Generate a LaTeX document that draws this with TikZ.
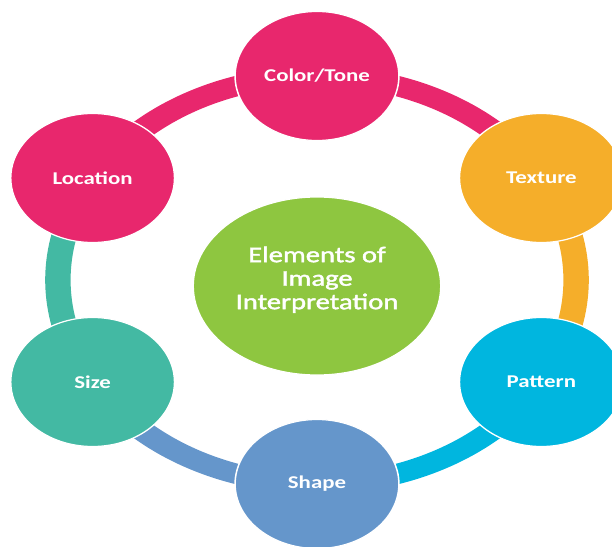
\documentclass[tikz,border=0pt]{standalone}
\usepackage{fontspec}
\setmainfont{Carlito}
\usetikzlibrary{shapes.geometric}
\pgfdeclarelayer{background}
\pgfsetlayers{background,main}
\definecolor{cpink}{HTML}{E8276D}
\definecolor{corange}{HTML}{F5AE2A}
\definecolor{ccyan}{HTML}{00B6DF}
\definecolor{cblue}{HTML}{6596CB}
\definecolor{cteal}{HTML}{43B9A3}
\definecolor{cgreen}{HTML}{8EC640}
\newfontfamily\hubfont[FakeBold=1.6]{Carlito}
\begin{document}
\begin{tikzpicture}[x=1pt,y=1pt,
  elem/.style={circle, minimum size=129pt, inner sep=0pt, draw=white, line width=1.2pt,
    text=white, font=\fontsize{18}{20}\selectfont\bfseries},
  hub/.style={ellipse, minimum width=195pt, minimum height=178pt, inner sep=0pt,
    draw=white, line width=1.2pt, fill=cgreen, text=white,
    font=\hubfont\fontsize{22.5}{23.5}\selectfont},
  ring/.style={line width=20pt}]
\useasboundingbox (-317,-266) rectangle (295,280);
\begin{scope}[transform canvas={xscale=1.27}]
  \node[elem, fill=cpink]   (ct) at (90:204)  {Color/Tone};
  \node[elem, fill=corange] (tx) at (30:204)  {Texture};
  \node[elem, fill=ccyan]   (pt) at (-30:204) {Pattern};
  \node[elem, fill=cblue]   (sh) at (-90:204) {Shape};
  \node[elem, fill=cteal]   (sz) at (210:204) {Size};
  \node[elem, fill=cpink]   (lo) at (150:204) {Location};
  \node[hub] (ce) at (0,-6) {\raisebox{5pt}[\height][\depth]{\begin{tabular}{@{}c@{}}Elements of\\Image\\Interpretation\end{tabular}}};
\end{scope}
\begin{pgfonlayer}{background}
\begin{scope}[transform canvas={xscale=1.27}]
  \draw[ring, cpink]   (ct.center) .. controls +(72.9,0) and +(-36.45,63.1) .. (tx.center);
  \draw[ring, corange] (tx.center) .. controls +(36.45,-63.1) and +(36.45,63.1) .. (pt.center);
  \draw[ring, ccyan]   (pt.center) .. controls +(-36.45,-63.1) and +(72.9,0) .. (sh.center);
  \draw[ring, cblue]   (sh.center) .. controls +(-72.9,0) and +(36.45,-63.1) .. (sz.center);
  \draw[ring, cteal]   (sz.center) .. controls +(-36.45,63.1) and +(-36.45,-63.1) .. (lo.center);
  \draw[ring, cpink]   (lo.center) .. controls +(36.45,63.1) and +(-72.9,0) .. (ct.center);
\end{scope}
\end{pgfonlayer}
\end{tikzpicture}
\end{document}
